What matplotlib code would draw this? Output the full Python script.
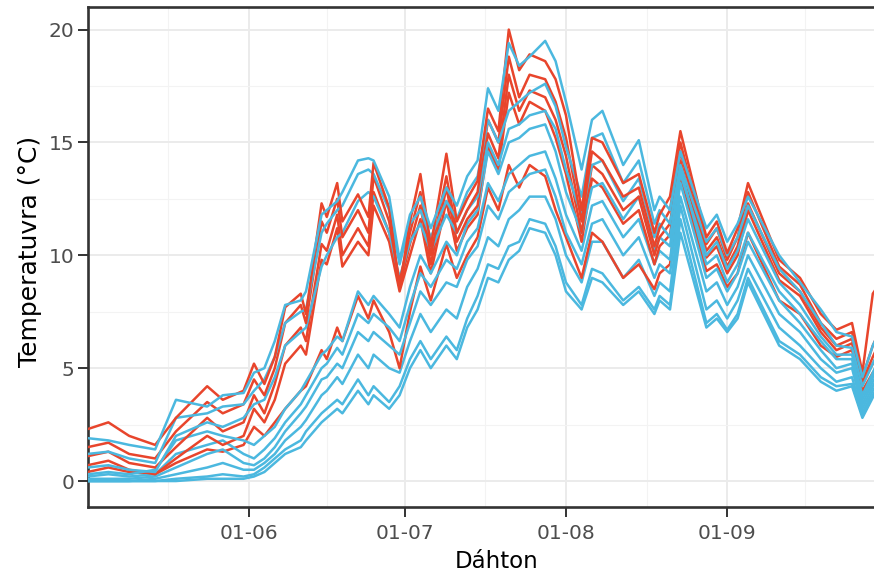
import numpy as np
import matplotlib
matplotlib.use("Agg")
import matplotlib.pyplot as plt
import matplotlib.dates as mdates
from matplotlib.ticker import FixedLocator

# ---- data: days after 1 May, temperatures per station ----
days = [0, 4, 8, 13, 17, 23, 26, 30, 32, 34, 36, 38, 41, 42, 45, 46, 48, 49, 52, 54,
        55, 58, 60, 62, 64, 66, 69, 71, 73, 75, 77, 79, 81, 83, 85, 88, 90, 92, 95, 97,
        99, 103, 106, 109, 110, 112, 114, 119, 121, 123, 125, 127, 133, 137, 141, 144, 147, 149, 151, 153]

red_1 = [2.3, 2.6, 2.0, 1.6, 2.8, 4.2, 3.6, 4.0, 5.2, 4.3, 5.5, 7.7, 8.3, 7.4, 12.3, 11.7, 13.2, 11.5, 12.7, 11.7,
         14.1, 12.1, 8.5, 11.5, 13.6, 10.4, 14.5, 11.5, 12.5, 13.3, 16.5, 15.5, 20.0, 18.2, 18.9, 18.6, 17.8, 16.2, 12.0, 15.2,
         15.0, 13.2, 13.6, 11.0, 11.8, 12.6, 15.5, 10.8, 11.5, 10.1, 11.2, 13.2, 9.8, 9.0, 7.4, 6.7, 7.0, 4.8, 8.3, 9.0]
red_2 = [1.5, 1.7, 1.2, 1.0, 2.2, 3.5, 3.0, 3.4, 4.5, 3.8, 5.0, 7.0, 7.8, 7.0, 11.5, 11.0, 12.5, 10.8, 12.0, 11.0,
         13.5, 11.5, 8.8, 11.0, 12.8, 10.0, 13.5, 11.0, 12.0, 12.8, 16.0, 15.0, 18.8, 17.0, 18.0, 17.8, 16.8, 15.2, 11.5, 14.6,
         14.2, 12.6, 13.0, 10.4, 11.2, 12.0, 15.0, 10.5, 11.2, 9.8, 10.8, 12.8, 9.5, 8.7, 7.0, 6.3, 6.6, 4.6, 6.0, 7.0]
red_3 = [1.1, 1.3, 0.8, 0.6, 1.5, 2.8, 2.2, 2.6, 3.8, 3.0, 4.3, 6.0, 6.8, 6.2, 10.5, 10.2, 11.8, 10.0, 11.2, 10.4,
         12.8, 11.0, 8.6, 10.5, 12.2, 9.6, 13.0, 10.6, 11.6, 12.2, 15.4, 14.3, 18.0, 16.4, 17.3, 17.0, 16.0, 14.4, 11.0, 14.0,
         13.6, 12.0, 12.6, 10.0, 10.8, 11.4, 14.6, 10.2, 10.8, 9.5, 10.4, 12.3, 9.2, 8.4, 6.8, 6.0, 6.3, 4.4, 5.5, 6.5]
red_4 = [0.7, 0.9, 0.5, 0.3, 1.0, 2.0, 1.6, 2.0, 3.2, 2.6, 3.6, 5.2, 6.0, 5.6, 9.8, 9.6, 11.2, 9.5, 10.6, 10.0,
         12.2, 10.6, 8.4, 10.0, 11.6, 9.2, 12.4, 10.2, 11.2, 11.8, 14.8, 13.8, 17.2, 15.8, 16.8, 16.4, 15.2, 13.6, 10.6, 13.4,
         13.0, 11.4, 12.0, 9.6, 10.4, 10.9, 14.2, 9.9, 10.4, 9.2, 10.0, 12.0, 8.9, 8.2, 6.6, 5.8, 6.1, 4.3, 5.2, 6.0]
red_5 = [0.4, 0.6, 0.4, 0.3, 0.8, 1.4, 1.3, 1.6, 2.4, 2.0, 2.6, 3.2, 4.0, 4.2, 5.8, 5.4, 6.8, 6.2, 8.2, 7.2,
         8.0, 6.6, 5.0, 7.5, 9.5, 8.0, 10.5, 9.0, 10.0, 10.8, 13.0, 12.0, 14.0, 13.0, 14.0, 13.5, 12.0, 10.8, 9.0, 11.0,
         10.6, 9.0, 9.6, 8.5, 9.2, 9.6, 13.5, 9.3, 9.6, 8.6, 9.2, 11.0, 8.0, 7.4, 6.0, 5.5, 5.8, 4.0, 4.8, 5.5]

blue_1 = [1.9, 1.8, 1.6, 1.4, 3.6, 3.3, 3.8, 3.9, 4.8, 5.0, 6.2, 7.8, 8.0, 8.4, 11.8, 12.0, 12.4, 12.8, 14.2, 14.3,
          14.2, 12.6, 9.8, 11.8, 12.6, 11.2, 13.0, 12.2, 13.5, 14.2, 17.4, 16.4, 19.4, 18.4, 18.8, 19.5, 18.6, 16.8, 13.8, 16.0,
          16.4, 14.0, 15.1, 12.0, 12.6, 12.0, 14.6, 11.2, 11.8, 10.6, 11.4, 12.6, 10.0, 8.8, 7.6, 6.6, 6.4, 4.6, 6.0, 7.0]
blue_2 = [1.2, 1.3, 1.0, 0.8, 2.8, 3.0, 3.3, 3.4, 4.0, 4.5, 5.5, 7.0, 7.5, 7.6, 11.0, 11.4, 12.0, 12.2, 13.6, 13.8,
          13.6, 12.0, 9.6, 11.4, 12.0, 10.8, 12.4, 11.6, 12.8, 13.5, 16.0, 15.0, 16.4, 16.8, 17.2, 17.6, 16.6, 14.8, 12.6, 15.2,
          15.4, 13.2, 14.2, 11.4, 12.0, 11.4, 14.0, 10.6, 11.2, 10.0, 10.8, 12.2, 9.4, 8.4, 7.0, 6.0, 5.9, 4.2, 5.2, 6.2]
blue_3 = [0.6, 0.7, 0.5, 0.4, 2.0, 2.6, 2.4, 2.8, 3.4, 3.6, 4.6, 6.0, 6.6, 6.8, 9.5, 10.0, 10.8, 11.0, 12.4, 12.8,
          12.6, 11.0, 9.0, 10.6, 11.4, 10.2, 11.8, 11.0, 12.0, 12.6, 15.0, 14.0, 15.6, 15.8, 16.2, 16.4, 15.6, 13.8, 11.8, 14.0,
          14.2, 12.4, 13.4, 10.8, 11.4, 10.8, 13.6, 10.0, 10.6, 9.4, 10.2, 11.6, 8.8, 7.8, 6.4, 5.6, 5.6, 3.8, 4.8, 5.8]
blue_4 = [0.3, 0.4, 0.3, 0.5, 1.8, 2.2, 2.0, 1.8, 1.6, 2.0, 2.4, 3.2, 4.0, 4.4, 5.6, 5.8, 6.4, 6.2, 8.4, 7.8,
          8.2, 7.4, 6.8, 8.6, 10.0, 9.2, 10.6, 10.0, 11.4, 12.0, 14.6, 13.6, 15.0, 15.2, 15.6, 15.8, 14.6, 12.8, 11.0, 13.0,
          13.2, 11.6, 12.6, 10.2, 10.8, 10.4, 13.8, 9.6, 10.0, 8.8, 9.6, 11.0, 8.4, 7.4, 6.2, 5.4, 5.4, 3.6, 4.6, 5.5]
blue_5 = [0.2, 0.3, 0.2, 0.3, 1.2, 1.6, 1.8, 1.2, 1.0, 1.4, 1.9, 2.6, 3.4, 3.8, 5.0, 5.2, 5.9, 5.6, 7.4, 7.0,
          7.4, 6.8, 6.2, 7.8, 9.2, 8.6, 9.8, 9.4, 10.6, 11.2, 13.2, 12.4, 13.6, 14.0, 14.4, 14.6, 13.4, 11.8, 10.2, 12.2,
          12.4, 10.8, 11.6, 9.6, 10.2, 9.8, 13.2, 9.0, 9.4, 8.4, 9.2, 10.6, 8.0, 7.0, 5.8, 5.0, 5.2, 3.4, 4.4, 5.2]
blue_6 = [0.1, 0.1, 0.1, 0.2, 0.6, 1.2, 1.4, 0.8, 0.7, 1.0, 1.5, 2.2, 3.0, 3.3, 4.5, 4.6, 5.2, 5.0, 6.6, 6.2,
          6.6, 6.0, 5.6, 7.0, 8.4, 7.8, 8.8, 8.6, 9.8, 10.4, 12.2, 11.6, 12.8, 13.2, 13.6, 13.8, 12.6, 11.0, 9.6, 11.4,
          11.6, 10.0, 10.8, 9.0, 9.6, 9.2, 12.6, 8.4, 8.8, 7.8, 8.6, 10.0, 7.4, 6.6, 5.4, 4.8, 5.0, 3.2, 4.2, 5.0]
blue_7 = [0.0, 0.0, 0.0, 0.1, 0.3, 0.6, 0.8, 0.5, 0.5, 0.8, 1.2, 1.8, 2.4, 2.7, 3.8, 4.0, 4.6, 4.3, 5.6, 5.0,
          5.6, 5.0, 4.8, 6.2, 7.4, 6.6, 7.6, 7.2, 8.6, 9.4, 10.8, 10.4, 11.6, 12.0, 12.6, 12.6, 11.6, 10.0, 8.8, 10.6,
          10.6, 9.0, 9.8, 8.2, 8.8, 8.4, 12.2, 7.6, 8.0, 7.2, 8.0, 9.4, 6.8, 6.0, 5.0, 4.4, 4.6, 3.0, 4.0, 4.8]
blue_8 = [0.0, 0.0, 0.0, 0.0, 0.1, 0.2, 0.3, 0.2, 0.3, 0.6, 1.0, 1.4, 1.8, 2.2, 3.0, 3.2, 3.6, 3.4, 4.5, 3.8,
          4.2, 3.5, 4.2, 5.4, 6.2, 5.4, 6.4, 5.8, 7.2, 8.2, 9.6, 9.4, 10.4, 10.6, 11.6, 11.4, 10.4, 8.8, 7.8, 9.4,
          9.2, 8.0, 8.6, 7.6, 8.2, 7.8, 11.6, 7.0, 7.4, 6.7, 7.4, 9.0, 6.2, 5.6, 4.6, 4.2, 4.3, 2.9, 3.8, 4.6]
blue_9 = [0.0, 0.0, 0.0, 0.0, 0.0, 0.1, 0.1, 0.1, 0.2, 0.4, 0.8, 1.2, 1.5, 1.8, 2.6, 2.8, 3.2, 3.0, 4.0, 3.4,
          3.8, 3.2, 3.8, 5.0, 5.8, 5.0, 6.0, 5.4, 6.8, 7.6, 9.0, 8.8, 9.8, 10.2, 11.2, 11.0, 10.0, 8.4, 7.6, 9.0,
          8.8, 7.8, 8.4, 7.4, 8.0, 7.6, 11.0, 6.8, 7.2, 6.6, 7.2, 8.8, 6.0, 5.4, 4.4, 4.0, 4.2, 2.8, 3.7, 4.5]

x_tick_dates = ["2018-06-01", "2018-07-01", "2018-08-01", "2018-09-01"]
x_minor_dates = ["2018-05-16T12", "2018-06-16", "2018-07-16T12", "2018-08-16T12", "2018-09-16"]
y_ticks = [0, 5, 10, 15, 20]
y_minor = [2.5, 7.5, 12.5, 17.5]
x_title = "Dáhton"
y_title = "Temperatuvra (°C)"

RED = "#E8452C"
BLUE = "#4BB8DF"

start = np.datetime64("2018-05-01")
dates = start + np.array(days).astype("timedelta64[D]")

W, H = 874, 584
fig = plt.figure(figsize=(W / 100, H / 100), dpi=100)
ax = fig.add_axes([88 / W, (H - 507) / H, (906 - 88) / W, (507 - 7) / H])

order = [(blue_9, BLUE), (blue_8, BLUE), (blue_7, BLUE), (red_5, RED), (blue_6, BLUE),
         (blue_5, BLUE), (red_4, RED), (blue_4, BLUE), (red_3, RED), (blue_3, BLUE),
         (red_2, RED), (blue_2, BLUE), (red_1, RED), (blue_1, BLUE)]
for vals, col in order:
    ax.plot(dates, vals, color=col, lw=1.8, solid_joinstyle="round", solid_capstyle="round", zorder=3)

x0 = mdates.date2num(np.datetime64("2018-05-01T02"))
ax.set_xlim(x0, x0 + 157.3)
ax.set_ylim(-1.15, 21.0)

ax.set_xticks([mdates.date2num(np.datetime64(d)) for d in x_tick_dates])
ax.xaxis.set_major_formatter(mdates.DateFormatter("%d-%m"))
ax.xaxis.set_minor_locator(FixedLocator([mdates.date2num(np.datetime64(d)) for d in x_minor_dates]))
ax.set_yticks(y_ticks)
ax.yaxis.set_minor_locator(FixedLocator(y_minor))

ax.grid(which="major", color="#EBEBEB", lw=1.4, zorder=0)
ax.grid(which="minor", color="#F3F3F3", lw=0.8, zorder=0)
ax.set_axisbelow(True)

for s in ["left", "top", "bottom"]:
    ax.spines[s].set_color("#333333")
    ax.spines[s].set_linewidth(1.9)
ax.spines["right"].set_visible(False)

ax.tick_params(which="major", length=7.5, width=1.4, color="#333333", labelcolor="#4D4D4D",
               labelsize=14.5)
ax.tick_params(axis="y", pad=2.5)
ax.tick_params(axis="x", pad=5)
ax.tick_params(which="minor", length=0)

fig.text(497 / W, 1 - 568 / H, x_title, ha="center", va="baseline", fontsize=16.5, color="black")
fig.text(30 / W, 1 - 251 / H, y_title, ha="center", va="center", rotation=90, fontsize=18, color="black")

fig.savefig("out.png", dpi=100)
